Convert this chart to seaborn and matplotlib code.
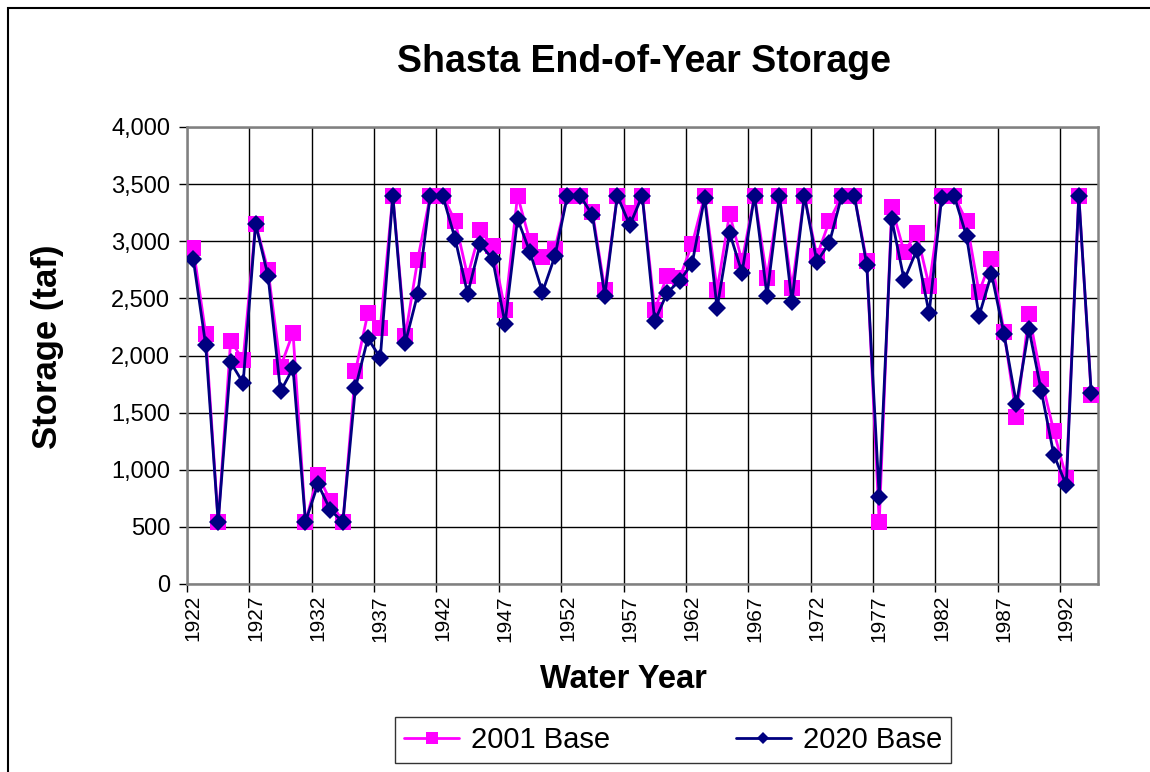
import numpy as np
import pandas as pd
import matplotlib
matplotlib.use("Agg")
import matplotlib.pyplot as plt
import matplotlib.ticker as mticker
from matplotlib.patches import Rectangle
import seaborn as sns

years = list(range(1922, 1995))
base_2001 = [2940, 2190, 540, 2130, 1960, 3155, 2745, 1900, 2200, 540,
             955, 725, 540, 1860, 2370, 2245, 3400, 2170, 2840, 3400,
             3400, 3175, 2695, 3095, 2955, 2395, 3400, 3000, 2860, 2935,
             3400, 3400, 3260, 2575, 3400, 3250, 3400, 2400, 2700, 2680,
             2975, 3400, 2575, 3240, 2825, 3400, 2680, 3400, 2590, 3400,
             2870, 3175, 3400, 3400, 2825, 540, 3300, 2905, 3075, 2610,
             3400, 3400, 3175, 2555, 2845, 2210, 1465, 2365, 1795, 1335,
             930, 3400, 1655]
base_2020 = [2845, 2090, 540, 1940, 1760, 3150, 2695, 1685, 1890, 545,
             875, 645, 545, 1715, 2150, 1980, 3400, 2110, 2540, 3400,
             3400, 3020, 2540, 2975, 2845, 2280, 3195, 2905, 2555, 2870,
             3400, 3400, 3230, 2525, 3400, 3140, 3400, 2300, 2550, 2655,
             2805, 3380, 2415, 3075, 2725, 3400, 2525, 3400, 2470, 3400,
             2820, 2985, 3400, 3400, 2795, 765, 3195, 2660, 2920, 2370,
             3375, 3400, 3045, 2345, 2715, 2190, 1575, 2235, 1685, 1130,
             865, 3400, 1670]
series_names = ["2001 Base", "2020 Base"]
y_ticks = list(range(0, 4001, 500))

sns.set_style("white")
plt.rcParams['font.family'] = ['Liberation Sans', 'DejaVu Sans']
plt.rcParams['text.color'] = 'black'
plt.rcParams['axes.labelcolor'] = 'black'
plt.rcParams['xtick.color'] = 'black'
plt.rcParams['ytick.color'] = 'black'

W, H = 1150, 772
fig = plt.figure(figsize=(W / 100, H / 100), dpi=100)
ax = fig.add_axes([187 / W, 1 - 584 / H, (1097.5 - 187) / W, (584 - 127) / H])

idx = np.arange(len(years))
df = pd.DataFrame({"idx": idx, "a": base_2001, "b": base_2020})

PINK = "#FF00FF"
NAVY = "#000080"

sns.lineplot(data=df, x="idx", y="a", ax=ax, color=PINK, linewidth=2.0,
             marker="s", markersize=11.5, markeredgecolor=PINK,
             markeredgewidth=0, label=series_names[0], zorder=3)
sns.lineplot(data=df, x="idx", y="b", ax=ax, color=NAVY, linewidth=2.0,
             marker="D", markersize=8.8, markeredgecolor=NAVY,
             markeredgewidth=0, label=series_names[1], zorder=4)

ax.set_ylim(0, 4000)
ax.set_yticks(y_ticks)
ax.yaxis.set_major_formatter(mticker.FuncFormatter(lambda v, p: f"{int(v):,}"))

# x: ticks/grid at category boundaries every 5, labels at category centers
ax.set_xticks(np.arange(-0.5, len(years), 5))
ax.set_xticks(np.arange(0, len(years), 5), minor=True)
ax.set_xticklabels([])
ax.set_xticklabels([str(years[i]) for i in range(0, len(years), 5)], minor=True,
                   rotation=90, fontsize=15)
ax.set_xlim(-0.5, len(years) - 0.5)
ax.tick_params(axis="x", which="major", length=6, width=1, color="black",
               direction="out", bottom=True)
ax.tick_params(axis="x", which="minor", length=0, pad=8)
ax.tick_params(axis="y", which="major", length=6, width=1, color="black",
               direction="out", left=True, labelsize=17, pad=6)

ax.grid(True, which="major", axis="both", color="black", linewidth=1.0)
ax.set_axisbelow(True)
for s in ax.spines.values():
    s.set_color("#808080")
    s.set_linewidth(1.8)
ax.set_xlabel("")
ax.set_ylabel("")

fig.text(644 / W, 1 - 62 / H, "Shasta End-of-Year Storage", ha="center",
         va="center", fontsize=27, fontweight="bold")
fig.text(48 / W, 1 - 347 / H, "Storage (taf)", ha="center", va="center",
         rotation=90, fontsize=25, fontweight="bold")
fig.text(623 / W, 1 - 680 / H, "Water Year", ha="center", va="center",
         fontsize=23.5, fontweight="bold")

ax.get_legend().remove()
handles, labels = ax.get_legend_handles_labels()
leg = fig.legend(handles, labels, loc="center",
                 bbox_to_anchor=(673 / W, 1 - 740 / H),
                 bbox_transform=fig.transFigure, ncol=2, fontsize=21,
                 frameon=True, fancybox=False, edgecolor="black",
                 handlelength=1.9, columnspacing=4.3, markerscale=0.75,
                 borderpad=0.3, handletextpad=0.4)
leg.get_frame().set_linewidth(1.0)

fig.patches.append(Rectangle((8 / W, -0.1), 1.2, 1.1 - 7.5 / H, fill=False,
                             edgecolor="black", linewidth=1.5,
                             transform=fig.transFigure, clip_on=False))

fig.savefig("out.png", dpi=100)
